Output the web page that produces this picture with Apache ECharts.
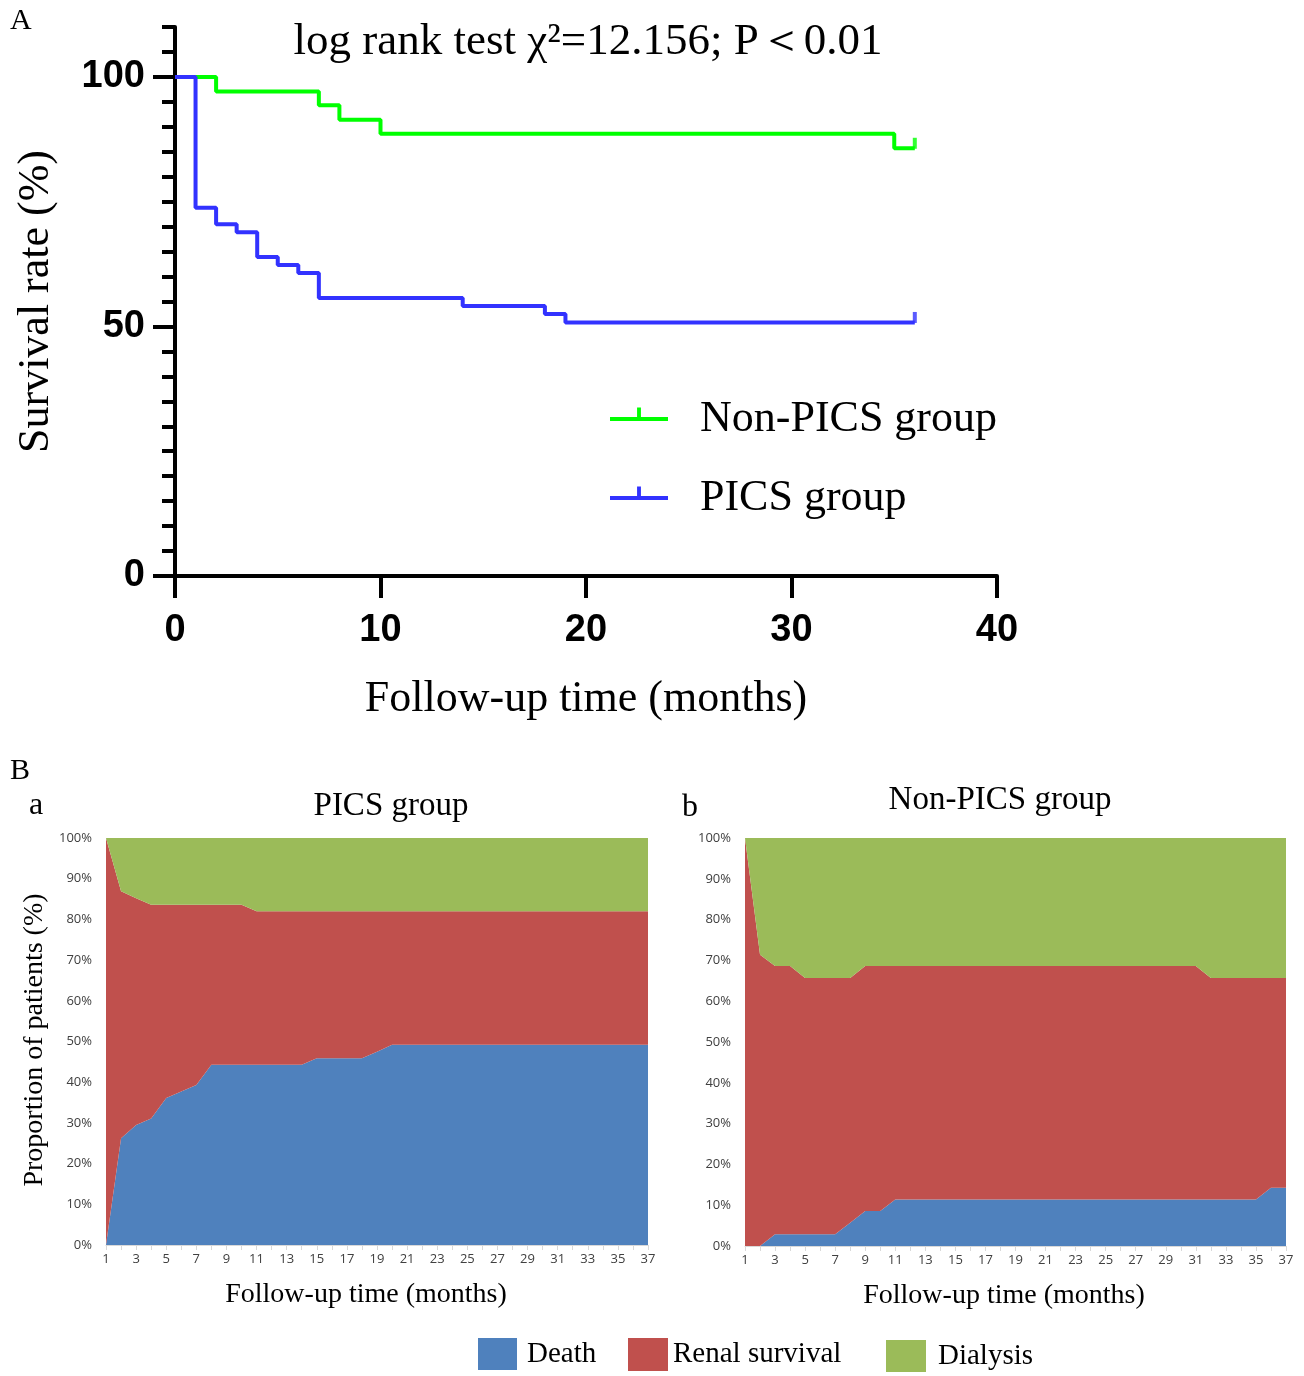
<!DOCTYPE html>
<html>
<head>
<meta charset="utf-8">
<script src="https://cdn.jsdelivr.net/npm/echarts@6/dist/echarts.min.js"></script>
<style>
html,body{margin:0;padding:0;background:#fff;}
#chart{width:1304px;height:1376px;}
</style>
</head>
<body>
<div id="chart"></div>
<script>
// ---------- Panel A: Kaplan-Meier survival ----------
const kmNonPics = [[0,100],[2,97.1],[7,94.3],[8,91.4],[10,88.6],[35,85.7],[36,85.7]];
const kmPics = [[0,100],[1,73.8],[2,70.5],[3,68.9],[4,63.9],[5,62.3],[6,60.7],[7,55.7],[14,54.1],[18,52.5],[19,50.8],[36,50.8]];
const censorNonPics = [[36,85.7]];
const censorPics = [[36,50.8]];
const kmYLabels = [0,50,100];

// ---------- Panel B: stacked proportions ----------
const months = ['1','2','3','4','5','6','7','8','9','10','11','12','13','14','15','16','17','18','19','20','21','22','23','24','25','26','27','28','29','30','31','32','33','34','35','36','37'];

const picsDeath = [0,26.2,29.5,31.1,36.1,37.7,39.3,44.3,44.3,44.3,44.3,44.3,44.3,44.3,45.9,45.9,45.9,45.9,47.5,49.2,49.2,49.2,49.2,49.2,49.2,49.2,49.2,49.2,49.2,49.2,49.2,49.2,49.2,49.2,49.2,49.2,49.2];
const picsRenal = [100,60.7,55.7,52.5,47.5,45.9,44.3,39.3,39.3,39.3,37.7,37.7,37.7,37.7,36.1,36.1,36.1,36.1,34.5,32.8,32.8,32.8,32.8,32.8,32.8,32.8,32.8,32.8,32.8,32.8,32.8,32.8,32.8,32.8,32.8,32.8,32.8];
const picsDialysis = [0,13.1,14.8,16.4,16.4,16.4,16.4,16.4,16.4,16.4,18.0,18.0,18.0,18.0,18.0,18.0,18.0,18.0,18.0,18.0,18.0,18.0,18.0,18.0,18.0,18.0,18.0,18.0,18.0,18.0,18.0,18.0,18.0,18.0,18.0,18.0,18.0];

const nonDeath = [0,0,2.9,2.9,2.9,2.9,2.9,5.7,8.6,8.6,11.4,11.4,11.4,11.4,11.4,11.4,11.4,11.4,11.4,11.4,11.4,11.4,11.4,11.4,11.4,11.4,11.4,11.4,11.4,11.4,11.4,11.4,11.4,11.4,11.4,14.3,14.3];
const nonRenal = [100,71.4,65.7,65.7,62.8,62.8,62.8,60.0,60.0,60.0,57.2,57.2,57.2,57.2,57.2,57.2,57.2,57.2,57.2,57.2,57.2,57.2,57.2,57.2,57.2,57.2,57.2,57.2,57.2,57.2,57.2,54.3,54.3,54.3,54.3,51.4,51.4];
const nonDialysis = [0,28.6,31.4,31.4,34.3,34.3,34.3,34.3,31.4,31.4,31.4,31.4,31.4,31.4,31.4,31.4,31.4,31.4,31.4,31.4,31.4,31.4,31.4,31.4,31.4,31.4,31.4,31.4,31.4,31.4,31.4,34.3,34.3,34.3,34.3,34.3,34.3];

const GREEN = '#00ff00', BLUE = '#3232ff';
const C_DEATH = '#4f81bd', C_RENAL = '#c0504d', C_DIAL = '#9bbb59';
const SERIF = '"Liberation Serif","Times New Roman",serif';
const SANS = '"Liberation Sans",Arial,sans-serif';
const LABEL_SANS = '"Open Sans","Liberation Sans",sans-serif';

const chart = echarts.init(document.getElementById('chart'), null, {renderer:'canvas'});

function areaSeries(name, data, color, stack, xi, yi) {
  return {
    name, type:'line', stack, data, xAxisIndex:xi, yAxisIndex:yi,
    symbol:'none', smooth:false,
    lineStyle:{width:0}, itemStyle:{color},
    areaStyle:{color, opacity:1}, z:2
  };
}

function catAxis(gi) {
  return {
    type:'category', gridIndex:gi, data:months, boundaryGap:false,
    axisLine:{show:true, lineStyle:{color:'#d9d9d9', width:1}},
    axisTick:{show:true, interval:0, length:5, lineStyle:{color:'#d9d9d9'}},
    axisLabel:{interval:1, fontSize:13, color:'#404040', fontFamily:LABEL_SANS, margin:8},
    splitLine:{show:false}
  };
}
function pctAxis(gi) {
  return {
    type:'value', gridIndex:gi, min:0, max:100, interval:10,
    axisLine:{show:false}, axisTick:{show:false}, splitLine:{show:false},
    axisLabel:{formatter:'{value}%', fontSize:13, color:'#404040', fontFamily:LABEL_SANS, margin:14}
  };
}

// horizontal line with a small upward censor tick; a tiny dot at the bottom keeps the line centred
const tickIcon = 'path://M0,10 L28,10 L28,0 L32,0 L32,10 L60,10 L60,14 L0,14 Z M30,23.95 L30.05,23.95 L30.05,24 Z';

const option = {
  animation:false,
  backgroundColor:'#ffffff',
  grid:[
    {left:175, top:27, width:822, height:549},
    {left:106, top:838, width:542, height:407},
    {left:745, top:838, width:541, height:408}
  ],
  xAxis:[
    {
      type:'value', gridIndex:0, min:0, max:40, interval:10,
      name:'Follow-up time (months)', nameLocation:'middle', nameGap:101,
      nameTextStyle:{fontFamily:SERIF, fontSize:44, color:'#000'},
      axisLine:{show:true, lineStyle:{color:'#000', width:4}},
      axisTick:{show:true, length:22, lineStyle:{color:'#000', width:4}},
      axisLabel:{fontFamily:SANS, fontWeight:'bold', fontSize:38, color:'#000', margin:36},
      splitLine:{show:false}
    },
    catAxis(1),
    catAxis(2)
  ],
  yAxis:[
    {
      type:'value', gridIndex:0, min:0, max:110, interval:5,
      name:'Survival rate (%)', nameLocation:'middle', nameGap:117,
      nameTextStyle:{fontFamily:SERIF, fontSize:44, color:'#000'},
      axisLine:{show:true, lineStyle:{color:'#000', width:4}},
      axisTick:{show:true, length:13, lineStyle:{color:'#000', width:4}},
      axisLabel:{show:false},
      splitLine:{show:false}
    },
    {
      type:'value', gridIndex:0, min:0, max:110, position:'left',
      axisLine:{show:false},
      axisTick:{show:true, length:22, customValues:kmYLabels, lineStyle:{color:'#000', width:4}},
      axisLabel:{show:true, customValues:kmYLabels, fontFamily:SANS, fontWeight:'bold', fontSize:38, color:'#000', margin:30},
      splitLine:{show:false}
    },
    pctAxis(1),
    pctAxis(2)
  ],
  legend:[
    {
      data:['Non-PICS group','PICS group'], orient:'vertical', left:605, top:392,
      itemWidth:58, itemHeight:24, itemGap:35, icon:tickIcon, selectedMode:false,
      textStyle:{fontFamily:SERIF, fontSize:44, color:'#000', padding:[0,0,0,27]}
    },
    {
      data:['Death'], left:473, top:1333, itemWidth:39, itemHeight:32, icon:'rect', selectedMode:false,
      textStyle:{fontFamily:SERIF, fontSize:29, color:'#000', padding:[0,0,0,5]}
    },
    {
      data:['Renal survival'], left:623, top:1333, itemWidth:40, itemHeight:33, icon:'rect', selectedMode:false,
      textStyle:{fontFamily:SERIF, fontSize:29, color:'#000', padding:[0,0,0,0]}
    },
    {
      data:['Dialysis'], left:881, top:1335, itemWidth:40, itemHeight:32, icon:'rect', selectedMode:false,
      textStyle:{fontFamily:SERIF, fontSize:29, color:'#000', padding:[0,0,0,7]}
    }
  ],
  graphic:[
    {type:'text', x:10, y:21, style:{text:'A', fontFamily:SERIF, fontSize:30, fill:'#000', verticalAlign:'middle'}},
    {type:'text', x:588, y:42, style:{text:'log rank test χ²=12.156; P＜0.01', fontFamily:SERIF, fontSize:45, fill:'#000', align:'center', verticalAlign:'middle'}},
    {type:'text', x:10, y:771, style:{text:'B', fontFamily:SERIF, fontSize:30, fill:'#000', verticalAlign:'middle'}},
    {type:'text', x:29, y:806, style:{text:'a', fontFamily:SERIF, fontSize:32, fill:'#000', verticalAlign:'middle'}},
    {type:'text', x:682, y:808, style:{text:'b', fontFamily:SERIF, fontSize:32, fill:'#000', verticalAlign:'middle'}},
    {type:'text', x:391, y:806, style:{text:'PICS group', fontFamily:SERIF, fontSize:33, fill:'#000', align:'center', verticalAlign:'middle'}},
    {type:'text', x:1000, y:800, style:{text:'Non-PICS group', fontFamily:SERIF, fontSize:33, fill:'#000', align:'center', verticalAlign:'middle'}},
    {type:'text', x:35, y:1040, rotation:Math.PI/2, style:{text:'Proportion of patients (%)', fontFamily:SERIF, fontSize:28, fill:'#000', align:'center', verticalAlign:'middle'}},
    {type:'text', x:366, y:1295, style:{text:'Follow-up time (months)', fontFamily:SERIF, fontSize:28, fill:'#000', align:'center', verticalAlign:'middle'}},
    {type:'text', x:1004, y:1296, style:{text:'Follow-up time (months)', fontFamily:SERIF, fontSize:28, fill:'#000', align:'center', verticalAlign:'middle'}}
  ],
  series:[
    {
      name:'Non-PICS group', type:'line', step:'end', data:kmNonPics, xAxisIndex:0, yAxisIndex:0,
      symbol:'none', lineStyle:{color:GREEN, width:4}, itemStyle:{color:GREEN}, z:3
    },
    {
      name:'PICS group', type:'line', step:'end', data:kmPics, xAxisIndex:0, yAxisIndex:0,
      symbol:'none', lineStyle:{color:BLUE, width:4}, itemStyle:{color:BLUE}, z:4
    },
    {
      name:'Non-PICS censored', type:'scatter', data:censorNonPics, xAxisIndex:0, yAxisIndex:0,
      symbol:'rect', symbolSize:[4,11], symbolOffset:[0,-5], itemStyle:{color:GREEN}, z:3
    },
    {
      name:'PICS censored', type:'scatter', data:censorPics, xAxisIndex:0, yAxisIndex:0,
      symbol:'rect', symbolSize:[4,11], symbolOffset:[0,-5], itemStyle:{color:BLUE}, z:4
    },
    areaSeries('Death', picsDeath, C_DEATH, 'pics', 1, 2),
    areaSeries('Renal survival', picsRenal, C_RENAL, 'pics', 1, 2),
    areaSeries('Dialysis', picsDialysis, C_DIAL, 'pics', 1, 2),
    areaSeries('Death', nonDeath, C_DEATH, 'non', 2, 3),
    areaSeries('Renal survival', nonRenal, C_RENAL, 'non', 2, 3),
    areaSeries('Dialysis', nonDialysis, C_DIAL, 'non', 2, 3)
  ]
};
chart.setOption(option);
</script>
</body>
</html>
